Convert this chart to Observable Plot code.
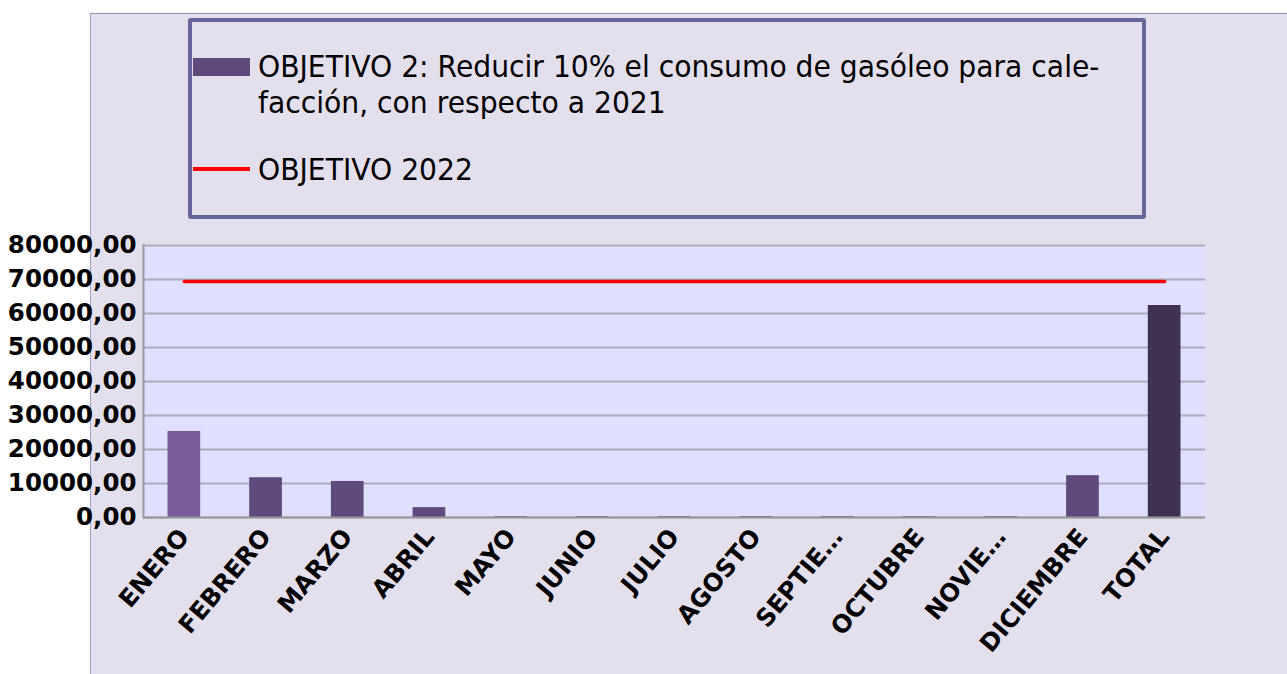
<!DOCTYPE html>
<html>
<head>
<meta charset="utf-8">
<script src="https://cdn.jsdelivr.net/npm/d3@7"></script>
<script src="https://cdn.jsdelivr.net/npm/@observablehq/plot@0.6"></script>
<style>
html, body { margin: 0; padding: 0; background: #ffffff; }
#wrap { position: relative; width: 1287px; height: 674px; overflow: hidden; font-family: "DejaVu Sans", sans-serif; }
#bg { position: absolute; left: 90px; top: 13px; right: 0; bottom: 0; background: #e4dfec; border-left: 1.5px solid #a5a3cc; border-top: 1.5px solid #8c8ab8; }
#chart { position: absolute; left: 0; top: 0; }
#legend { position: absolute; left: 188px; top: 18px; width: 958px; height: 201px; box-sizing: border-box; border: 4px solid #666699; border-radius: 3px; }
.sw { position: absolute; left: 1px; }
.txt { position: absolute; left: 66px; font-size: 30px; line-height: 36px; color: #000; white-space: nowrap; transform: scaleX(0.94); transform-origin: left top; }
</style>
</head>
<body>
<div id="wrap">
  <div id="bg"></div>
  <div id="chart"></div>
  <div id="legend">
    <div class="sw" style="top:36px;width:57px;height:18px;background:#5f4a7b;"></div>
    <div class="txt" id="leg1" style="top:27px;"></div>
    <div class="sw" style="top:145px;width:57px;height:3.5px;background:#ff0000;"></div>
    <div class="txt" id="leg2" style="top:130px;"></div>
  </div>
</div>
<script>
const categorias = ["ENERO","FEBRERO","MARZO","ABRIL","MAYO","JUNIO","JULIO","AGOSTO","SEPTIEMBRE","OCTUBRE","NOVIEMBRE","DICIEMBRE","TOTAL"];
const etiquetas = ["ENERO","FEBRERO","MARZO","ABRIL","MAYO","JUNIO","JULIO","AGOSTO","SEPTIE…","OCTUBRE","NOVIE…","DICIEMBRE","TOTAL"];
const consumo = [25300, 11700, 10600, 2900, 250, 250, 250, 250, 250, 250, 250, 12300, 62350];
const objetivo2022 = 69400;
const yTicks = [0, 10000, 20000, 30000, 40000, 50000, 60000, 70000, 80000];
const serie1 = "OBJETIVO 2: Reducir 10% el consumo de gasóleo para cale-|facción, con respecto a 2021";
const serie2 = "OBJETIVO 2022";
const barColors = ["#7a5c99","#5f4a7b","#5f4a7b","#5f4a7b","#5f4a7b","#5f4a7b","#5f4a7b","#5f4a7b","#5f4a7b","#5f4a7b","#5f4a7b","#5f4a7b","#403152"];

document.getElementById("leg1").innerHTML = serie1.split("|").join("<br>");
document.getElementById("leg2").textContent = serie2;

const data = categorias.map((c, i) => ({cat: c, v: consumo[i], obj: objetivo2022}));
const fmtY = d => d3.format(".2f")(d).replace(".", ",");

const chart = Plot.plot({
  width: 1287,
  height: 674,
  marginTop: 245,
  marginBottom: 157,
  marginLeft: 143,
  marginRight: 82,
  style: {background: "transparent", fontFamily: "DejaVu Sans", overflow: "visible"},
  x: {domain: categorias, paddingInner: 0.6, paddingOuter: 0.3, round: false, axis: null},
  y: {domain: [0, 80000], axis: null},
  color: {domain: categorias, range: barColors},
  marks: [
    Plot.frame({fill: "#dfdfff", stroke: null}),
    Plot.gridY(yTicks, {stroke: "#acacbc", strokeOpacity: 1, strokeWidth: 2}),
    Plot.barY(data, {x: "cat", y: "v", fill: "cat"}),
    Plot.ruleY([0], {stroke: "#999999", strokeWidth: 2}),
    Plot.frame({anchor: "left", stroke: "#999999", strokeWidth: 2}),
    Plot.lineY(data, {x: "cat", y: "obj", stroke: "#ff0000", strokeWidth: 3.5}),
    Plot.axisY({ticks: yTicks, tickSize: 0, tickPadding: 7, tickFormat: fmtY, fontSize: 24.5, fontWeight: "bold", fill: "#000", label: null}),
    Plot.axisX({tickSize: 0, tickPadding: 15, tickRotate: -50, fontSize: 24.5, fontWeight: "bold", fill: "#000", label: null,
      tickFormat: d => etiquetas[categorias.indexOf(d)]})
  ]
});
document.getElementById("chart").appendChild(chart);
</script>
</body>
</html>
